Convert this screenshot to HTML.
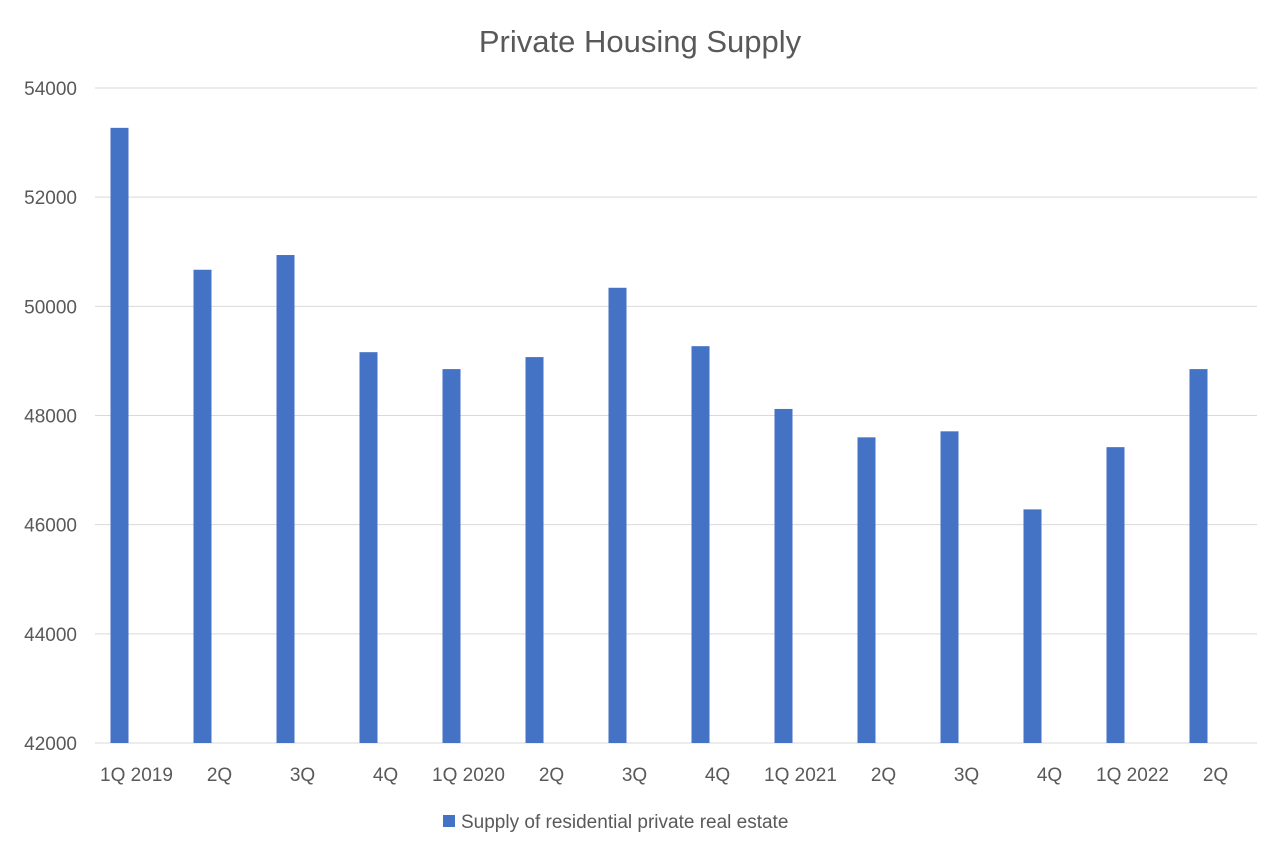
<!DOCTYPE html>
<html><head><meta charset="utf-8"><style>
body{margin:0;background:#fff;}
svg text{font-family:"Liberation Sans",sans-serif;fill:#595959;}
</style></head><body>
<svg id="chart" width="1280" height="856" viewBox="0 0 1280 856">
<rect width="1280" height="856" fill="#fff"/>
<text x="640" y="52" font-size="31" text-anchor="middle">Private Housing Supply</text>
<g id="grid"></g><g id="bars"></g><g id="xlabels"></g>
<g>
<rect x="443" y="815" width="12" height="12" fill="#4472C4"/>
<text x="461" y="828" font-size="19">Supply of residential private real estate</text>
</g>
</svg>
<script>
const categories=["1Q 2019","2Q","3Q","4Q","1Q 2020","2Q","3Q","4Q","1Q 2021","2Q","3Q","4Q","1Q 2022","2Q"];
const values=[53270,50670,50940,49160,48850,49070,50340,49270,48120,47600,47710,46280,47420,48850];
const yTicks=[42000,44000,46000,48000,50000,52000,54000];
const NS="http://www.w3.org/2000/svg";
const x0=95,x1=1257,yMin=42000,yMax=54000,yTop=88,yBot=743;
const step=(x1-x0)/categories.length;
function y(v){return yBot-(v-yMin)/(yMax-yMin)*(yBot-yTop);}
function mk(t,a){const e=document.createElementNS(NS,t);for(const k in a)e.setAttribute(k,a[k]);return e;}
const grid=document.getElementById('grid');
yTicks.forEach(t=>{
 const l=mk('line',{x1:x0,x2:x1,y1:y(t),y2:y(t),stroke:'#d9d9d9','stroke-width':1});
 
 
 grid.appendChild(l);
 const tx=mk('text',{x:77,y:y(t)+7,'font-size':19,'text-anchor':'end'});
 tx.textContent=t;
 
 
 grid.appendChild(tx);
});
const bars=document.getElementById('bars'),xl=document.getElementById('xlabels');
categories.forEach((c,i)=>{
 const cx=x0+i*step+24.5;
 const r=mk('rect',{x:cx-9,y:y(values[i]),width:18,height:yBot-y(values[i]),fill:'#4472C4'});
 
 
 bars.appendChild(r);
 const t=mk('text',{x:x0+(i+0.5)*step,y:781,'font-size':19,'text-anchor':'middle'});
 t.textContent=c;
 
 
 xl.appendChild(t);
});
</script>
</body></html>
